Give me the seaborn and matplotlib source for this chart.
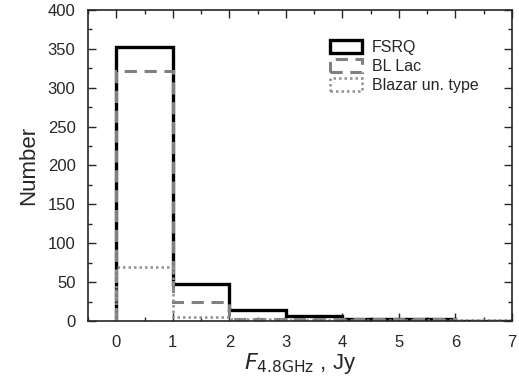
import matplotlib
matplotlib.use("Agg")
import matplotlib.pyplot as plt
import seaborn as sns
from matplotlib.patches import Patch
from matplotlib.ticker import MultipleLocator

# bin edges (Jy) and counts
bin_edges = [0, 1, 2, 3, 4, 5, 6, 7]
fsrq = [353, 47, 14, 7, 3, 3, 0]
bllac = [322, 25, 3, 2, 2, 2, 0]
unknown = [70, 5, 3, 1, 1, 1, 1]

sns.set_style("ticks")
plt.rcParams['font.family'] = ['Liberation Sans', 'DejaVu Sans']

fig = plt.figure(figsize=(5.19, 3.80), dpi=100)
ax = fig.add_axes([0.1696, 0.1553, 0.8169, 0.8184])

series = [
    ("FSRQ", fsrq, "black", "-", 2.4),
    ("BL Lac", bllac, "#808080", (0, (4, 2.5)), 2.2),
    ("Blazar un. type", unknown, "#909090", (0, (1, 1.2)), 1.8),
]
handles = []
for name, counts, col, ls, lw in series:
    ax.stairs(counts, bin_edges, baseline=0, fill=False, edgecolor=col,
              linestyle=ls, linewidth=lw)
    handles.append(Patch(facecolor="none", edgecolor=col, linestyle=ls, linewidth=lw, label=name))

ax.set_xlim(-0.5, 7)
ax.set_ylim(0, 400)
ax.xaxis.set_major_locator(MultipleLocator(1))
ax.xaxis.set_minor_locator(MultipleLocator(0.5))
ax.yaxis.set_major_locator(MultipleLocator(50))
ax.yaxis.set_minor_locator(MultipleLocator(25))
ax.tick_params(which="both", direction="in", top=True, right=True, labelsize=12, width=1)
ax.tick_params(which="major", length=6)
ax.tick_params(which="minor", length=3)
ax.tick_params(axis="y", which="major", pad=9)
ax.tick_params(axis="x", which="major", pad=10)
for s in ax.spines.values():
    s.set_linewidth(1.2)
ax.set_ylabel("Number", fontsize=16, labelpad=6)
ax.set_xlabel(r"$F_{\rm 4.8GHz}$ , Jy", fontsize=16, labelpad=1)

ax.legend(handles=handles, loc="upper left", bbox_to_anchor=(0.571, 0.905), frameon=False,
          fontsize=11.5, handlelength=2.0, handleheight=0.9, labelspacing=0.25, handletextpad=0.6,
          borderaxespad=0, borderpad=0)

fig.savefig("out.png", dpi=100)
